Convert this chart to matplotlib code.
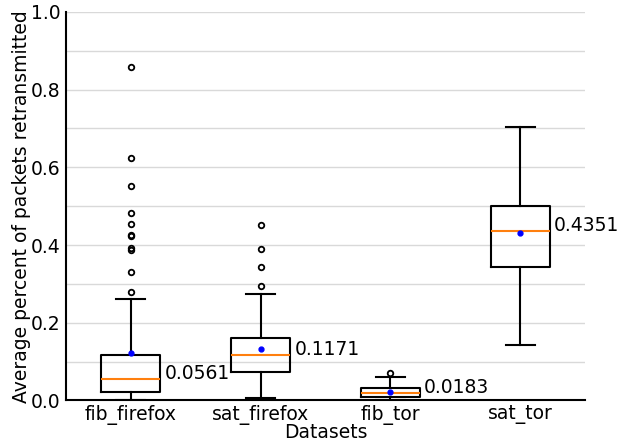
import numpy as np
import matplotlib.pyplot as plt

datasets = ["fib_firefox", "sat_firefox", "fib_tor", "sat_tor"]
medians = [0.0561, 0.1171, 0.0183, 0.4351]
q1 = [0.021, 0.074, 0.0085, 0.343]
q3 = [0.117, 0.161, 0.031, 0.501]
whisker_low = [0.0, 0.007, 0.0, 0.143]
whisker_high = [0.261, 0.274, 0.061, 0.704]
means = [0.121, 0.132, 0.022, 0.431]
fliers = [
    [0.859, 0.625, 0.551, 0.482, 0.455, 0.426, 0.423, 0.392, 0.388, 0.330, 0.279],
    [0.452, 0.390, 0.343, 0.295],
    [0.071],
    [],
]

stats = []
for i, name in enumerate(datasets):
    stats.append(dict(label=name, med=medians[i], q1=q1[i], q3=q3[i],
                      whislo=whisker_low[i], whishi=whisker_high[i],
                      mean=means[i], fliers=fliers[i]))

fs = 13.5
fig = plt.figure(figsize=(6.2, 4.42), dpi=100)
ax = fig.add_axes([0.106, 0.094, 0.838, 0.879])

positions = np.arange(1, len(datasets) + 1)
ax.bxp(stats, positions=positions, widths=0.45, showmeans=True,
       boxprops=dict(color="black", linewidth=1.5),
       whiskerprops=dict(color="black", linewidth=1.5),
       capprops=dict(color="black", linewidth=1.5),
       medianprops=dict(color="#ff7f0e", linewidth=1.5),
       meanprops=dict(marker="o", markerfacecolor="blue", markeredgecolor="blue",
                      markersize=3.5),
       flierprops=dict(marker="o", markerfacecolor="none", markeredgecolor="black",
                       markersize=4, markeredgewidth=1.3))

# median value next to each box
for pos, med in zip(positions, medians):
    ax.text(pos + 0.26, med, f"{med:.4f}", fontsize=fs)

ax.set_xlim(0.5, 4.5)
ax.set_ylim(0, 1.0)
ax.set_yticks(np.arange(0, 1.01, 0.2))
ax.set_yticks(np.arange(0.1, 1.0, 0.2), minor=True)
ax.yaxis.grid(True, which="both", color="#d9d9d9", linewidth=1)
ax.set_axisbelow(True)
ax.tick_params(axis="both", which="both", length=0, labelsize=fs)
ax.set_xticks(positions)
ax.set_xticklabels(datasets)
for side in ["top", "right"]:
    ax.spines[side].set_visible(False)
ax.spines["left"].set_linewidth(1.5)
ax.spines["bottom"].set_linewidth(1.5)

ax.set_xlabel("Datasets", fontsize=fs, labelpad=-2)
ax.set_ylabel("Average percent of packets retransmitted", fontsize=fs, labelpad=0)

fig.savefig("out.png", dpi=100)
